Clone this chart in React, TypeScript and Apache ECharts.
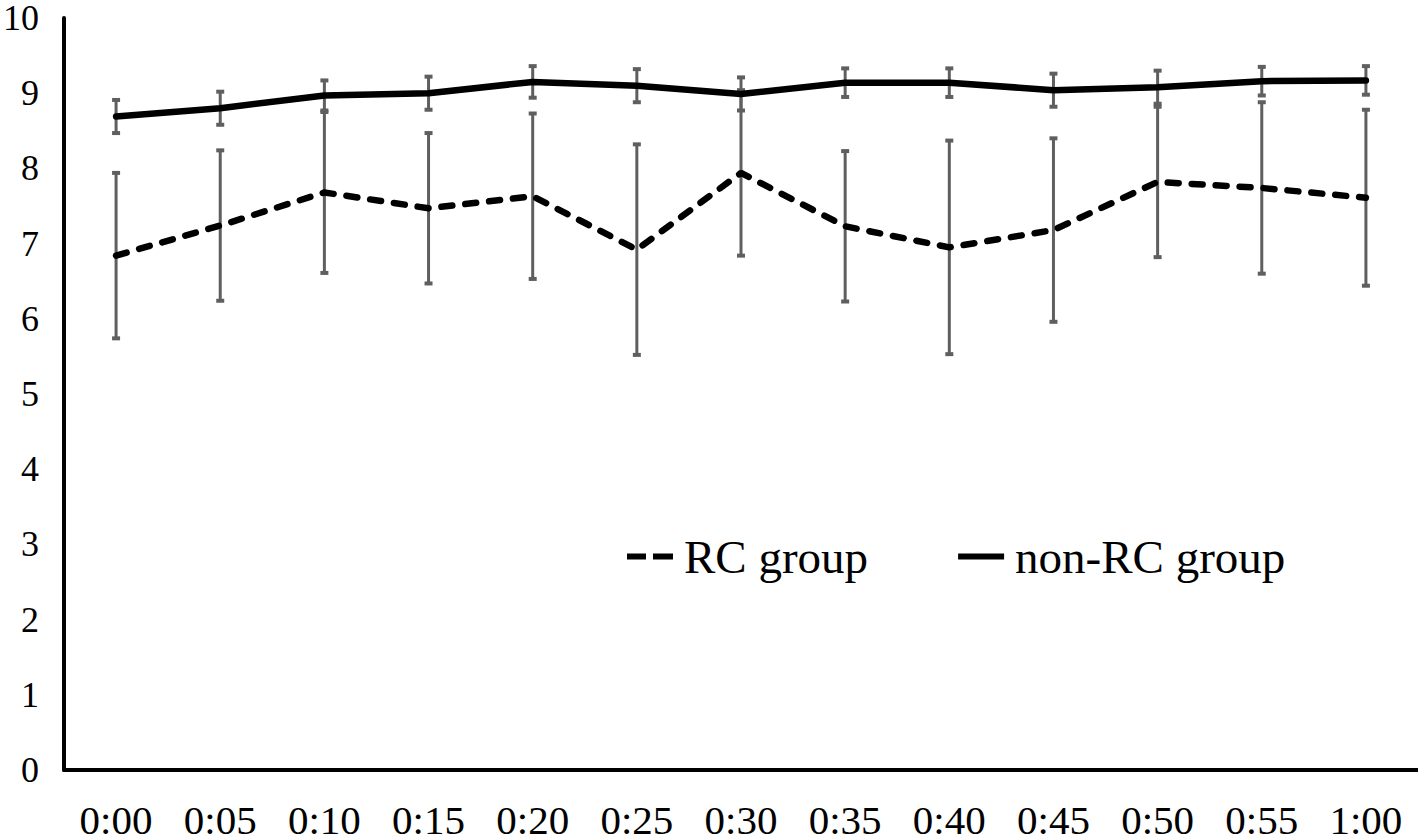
import React, { useEffect, useRef } from "react";
import * as echarts from "echarts";

const categories = ["0:00", "0:05", "0:10", "0:15", "0:20", "0:25", "0:30", "0:35", "0:40", "0:45", "0:50", "0:55", "1:00"];
const rcMean = [6.84, 7.24, 7.68, 7.47, 7.63, 6.92, 7.94, 7.23, 6.95, 7.18, 7.82, 7.74, 7.61];
const rcSD = [1.1, 1.0, 1.07, 1.0, 1.1, 1.4, 1.1, 1.0, 1.42, 1.22, 1.0, 1.14, 1.17];
const nonRcMean = [8.69, 8.8, 8.97, 9.0, 9.15, 9.1, 8.99, 9.14, 9.14, 9.04, 9.08, 9.16, 9.17];
const nonRcSD = [0.22, 0.22, 0.2, 0.22, 0.21, 0.22, 0.22, 0.19, 0.19, 0.22, 0.22, 0.19, 0.19];
const yTicks = [0, 10, 1];

const FONT = "'Liberation Serif', 'Times New Roman', serif";

const DASH_ICON = "path://M0,0 L19,0 L19,6 L0,6 Z M26,0 L46,0 L46,6 L26,6 Z";
const SOLID_ICON = "path://M0,0 L46,0 L46,6 L0,6 Z";

function errorData(mean: number[], sd: number[]) {
  return mean.map((m, i) => [i, m - sd[i], m + sd[i]]);
}

function renderError(params: any, api: any) {
  const idx = api.value(0);
  const lo = api.coord([idx, api.value(1)]);
  const hi = api.coord([idx, api.value(2)]);
  const half = 4;
  const style = { stroke: "#5f5f5f", lineWidth: 3 };
  const capStyle = { stroke: "#5f5f5f", lineWidth: 4 };
  return {
    type: "group",
    children: [
      { type: "line", shape: { x1: lo[0], y1: lo[1], x2: hi[0], y2: hi[1] }, style },
      { type: "line", shape: { x1: hi[0] - half, y1: hi[1], x2: hi[0] + half, y2: hi[1] }, style: capStyle },
      { type: "line", shape: { x1: lo[0] - half, y1: lo[1], x2: lo[0] + half, y2: lo[1] }, style: capStyle },
    ],
  };
}

export default function App() {
  const ref = useRef<HTMLDivElement>(null);
  useEffect(() => {
    if (!ref.current) return;
    const chart = echarts.init(ref.current, undefined, { renderer: "svg" });
    chart.setOption({
      animation: false,
      backgroundColor: "#ffffff",
      grid: { left: 62, right: 0, top: 18, bottom: 70, containLabel: false },
      legend: {
        left: 622,
        top: 528,
        itemWidth: 46,
        itemHeight: 6,
        itemGap: 90,
        textStyle: { fontFamily: FONT, fontSize: 47, color: "#000", padding: [0, 0, 0, 6] },
        data: [
          { name: "RC group", icon: DASH_ICON },
          { name: "non-RC group", icon: SOLID_ICON },
        ],
      },
      xAxis: {
        type: "category",
        data: categories,
        boundaryGap: true,
        axisLine: { lineStyle: { color: "#000", width: 4 } },
        axisTick: { show: false },
        axisLabel: { fontFamily: FONT, fontSize: 41, color: "#000", margin: 29 },
      },
      yAxis: {
        type: "value",
        min: yTicks[0],
        max: yTicks[1],
        interval: yTicks[2],
        axisLine: { show: true, lineStyle: { color: "#000", width: 4 } },
        axisTick: { show: false },
        splitLine: { show: false },
        axisLabel: { fontFamily: FONT, fontSize: 36, color: "#000", margin: 25 },
      },
      series: [
        {
          name: "RC error",
          type: "custom",
          renderItem: renderError,
          data: errorData(rcMean, rcSD),
          z: 1,
          silent: true,
        },
        {
          name: "non-RC error",
          type: "custom",
          renderItem: renderError,
          data: errorData(nonRcMean, nonRcSD),
          z: 1,
          silent: true,
        },
        {
          name: "RC group",
          type: "line",
          data: rcMean,
          symbol: "none",
          z: 3,
          lineStyle: { color: "#000", width: 6.5, type: [11, 13], cap: "round" },
          itemStyle: { color: "#000" },
        },
        {
          name: "non-RC group",
          type: "line",
          data: nonRcMean,
          symbol: "none",
          z: 3,
          lineStyle: { color: "#000", width: 6.5, type: "solid", cap: "round" },
          itemStyle: { color: "#000" },
        },
      ],
    });
    return () => chart.dispose();
  }, []);
  return <div ref={ref} style={{ width: 1418, height: 840, position: "absolute", left: 0, top: 0 }} />;
}
